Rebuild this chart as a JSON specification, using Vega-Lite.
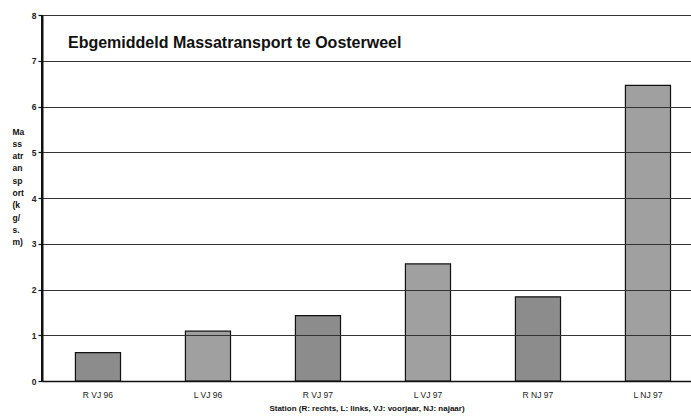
{
  "$schema": "https://vega.github.io/schema/vega-lite/v6.json",
  "width": 649,
  "height": 366,
  "autosize": {"type": "none"},
  "padding": {"left": 42, "top": 15, "right": 0, "bottom": 38},
  "background": "white",
  "title": {
    "text": "Ebgemiddeld Massatransport te Oosterweel",
    "anchor": "start",
    "frame": "group",
    "orient": "top",
    "offset": -40,
    "dx": 26,
    "font": "Liberation Sans",
    "fontSize": 16,
    "fontWeight": "bold",
    "color": "#111"
  },
  "data": {
    "values": [
      {"station": "R VJ 96", "kant": "R", "waarde": 0.62},
      {"station": "L VJ 96", "kant": "L", "waarde": 1.09},
      {"station": "R VJ 97", "kant": "R", "waarde": 1.43},
      {"station": "L VJ 97", "kant": "L", "waarde": 2.56},
      {"station": "R NJ 97", "kant": "R", "waarde": 1.84},
      {"station": "L NJ 97", "kant": "L", "waarde": 6.46}
    ]
  },
  "config": {
    "view": {"stroke": null},
    "font": "Liberation Sans"
  },
  "layer": [
    {
      "mark": {"type": "bar", "stroke": "#111", "strokeWidth": 1.2},
      "encoding": {
        "x": {
          "field": "station",
          "type": "nominal",
          "sort": null,
          "scale": {"paddingInner": 0.59, "paddingOuter": 0.245, "align": 0.62},
          "axis": {
            "title": "Station (R: rechts, L: links, VJ: voorjaar, NJ: najaar)",
            "titleFontSize": 8,
            "titleFontWeight": "bold",
            "titleColor": "#111",
            "titlePadding": 6,
            "labelAngle": 0,
            "labelFontSize": 8.5,
            "labelColor": "#222",
            "labelPadding": 9,
            "ticks": false,
            "domainColor": "#111",
            "domainWidth": 1.5,
            "grid": false,
            "zindex": 1
          }
        },
        "y": {
          "field": "waarde",
          "type": "quantitative",
          "scale": {"domain": [0, 8]},
          "axis": {
            "values": [0, 1, 2, 3, 4, 5, 6, 7, 8],
            "title": ["Ma", "ss", "atr", "an", "sp", "ort", "(k", "g/", "s.", "m)"],
            "titleAngle": 0,
            "titleAlign": "left",
            "titleBaseline": "top",
            "titleX": -30,
            "titleY": 112,
            "titleFontSize": 8.5,
            "titleFontWeight": "bold",
            "titleLineHeight": 12.3,
            "titleColor": "#111",
            "labelFontSize": 8.5,
            "labelFontWeight": "bold",
            "labelColor": "#222",
            "labelPadding": 2,
            "ticks": true,
            "tickSize": 4,
            "tickColor": "#111",
            "tickWidth": 1.2,
            "domain": true,
            "domainColor": "#111",
            "domainWidth": 2,
            "grid": true,
            "gridColor": "#333",
            "gridWidth": 1,
            "gridOpacity": 1,
            "zindex": 1
          }
        },
        "fill": {
          "field": "kant",
          "type": "nominal",
          "scale": {"domain": ["R", "L"], "range": ["#8c8c8c", "#a0a0a0"]},
          "legend": null
        }
      }
    },
    {
      "mark": {"type": "rule", "color": "#111", "strokeWidth": 2},
      "encoding": {
        "x": {"value": 0},
        "y": {"datum": 0, "type": "quantitative"},
        "y2": {"datum": 8}
      }
    }
  ]
}
